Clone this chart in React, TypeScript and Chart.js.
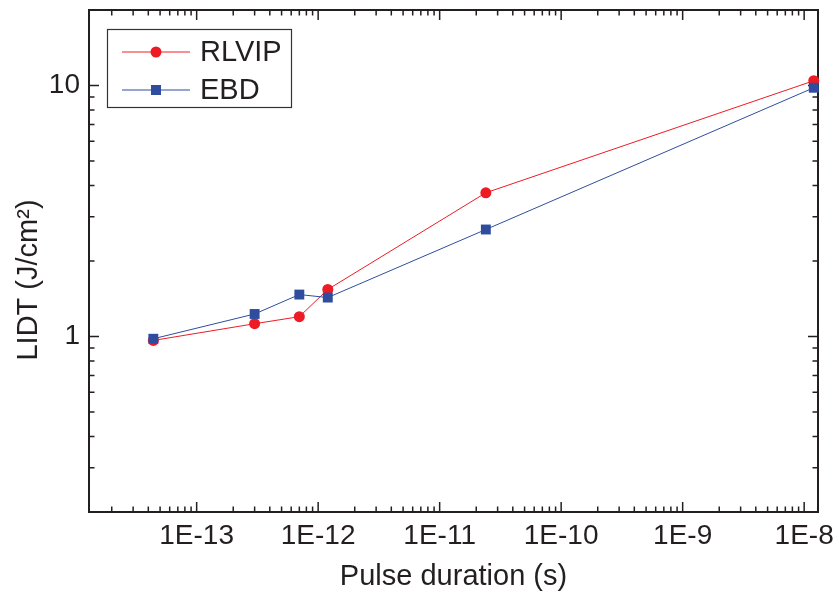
import React, { useEffect, useRef } from "react";
import { Chart, registerables } from "chart.js";

Chart.register(...registerables);

// ---- data ----
const pulseDurations = [4.4e-14, 3e-13, 7e-13, 1.2e-12, 2.4e-11, 1.2e-8];
const rlvipLidt = [0.965, 1.125, 1.2, 1.54, 3.74, 10.45];
const ebdLidt = [0.98, 1.23, 1.47, 1.43, 2.67, 9.8];
const seriesNames = ["RLVIP", "EBD"];
const xTickValues = [1e-13, 1e-12, 1e-11, 1e-10, 1e-9, 1e-8];
const yTickValues = [1, 10];
const xRange = [1.3e-14, 1.3e-8];
const yRange = [0.2, 20];
const xTitle = "Pulse duration (s)";
const yTitle = "LIDT (J/cm²)";

const INK = "#231F20";
const RED = "#ED1C24";
const BLUE = "#2E4D9F";
const FONT = "'Liberation Sans', Arial, sans-serif";

function logTickList(min: number, max: number) {
  const out: { v: number; major: boolean }[] = [];
  const d0 = Math.floor(Math.log10(min));
  const d1 = Math.ceil(Math.log10(max));
  for (let d = d0; d <= d1; d++) {
    for (let m = 1; m <= 9; m++) {
      const v = m * Math.pow(10, d);
      if (v >= min * (1 - 1e-9) && v <= max * (1 + 1e-9)) out.push({ v, major: m === 1 });
    }
  }
  return out;
}

const frameTicksPlugin = {
  id: "frameTicks",
  beforeDatasetsDraw(chart: any) {
    const { ctx, chartArea, scales } = chart;
    const { left, right, top, bottom } = chartArea;
    const xs = scales.x;
    const ys = scales.y;
    ctx.save();
    ctx.strokeStyle = INK;
    ctx.lineWidth = 1.5;
    ctx.beginPath();
    for (const t of logTickList(xs.min, xs.max)) {
      const px = xs.getPixelForValue(t.v);
      const len = t.major ? 10 : 5.5;
      ctx.moveTo(px, bottom);
      ctx.lineTo(px, bottom - len);
      ctx.moveTo(px, top);
      ctx.lineTo(px, top + len);
    }
    for (const t of logTickList(ys.min, ys.max)) {
      const py = ys.getPixelForValue(t.v);
      const len = t.major ? 10 : 5.5;
      ctx.moveTo(left, py);
      ctx.lineTo(left + len, py);
      ctx.moveTo(right, py);
      ctx.lineTo(right - len, py);
    }
    ctx.stroke();
    ctx.lineWidth = 2;
    ctx.strokeRect(left, top, right - left, bottom - top);
    ctx.restore();
  },
  afterDraw(chart: any) {
    const { ctx } = chart;
    ctx.save();
    // y axis title
    ctx.fillStyle = INK;
    ctx.font = `29px ${FONT}`;
    ctx.textAlign = "center";
    ctx.textBaseline = "middle";
    ctx.translate(29, 280);
    ctx.rotate(-Math.PI / 2);
    ctx.fillText(yTitle, 0, 0);
    ctx.restore();

    // legend
    ctx.save();
    const bx = 107.5, by = 29.5, bw = 184, bh = 78;
    ctx.strokeStyle = "#333333";
    ctx.lineWidth = 1.2;
    ctx.strokeRect(bx, by, bw, bh);
    const rows = [52, 90];
    chart.data.datasets.forEach((ds: any, i: number) => {
      const yy = rows[i];
      ctx.strokeStyle = ds.borderColor;
      ctx.lineWidth = 1;
      ctx.beginPath();
      ctx.moveTo(122, yy);
      ctx.lineTo(190, yy);
      ctx.stroke();
      ctx.fillStyle = ds.backgroundColor;
      if (ds.pointStyle === "rect") {
        ctx.fillRect(156 - 5, yy - 5, 10, 10);
      } else {
        ctx.beginPath();
        ctx.arc(156, yy, 5.5, 0, Math.PI * 2);
        ctx.fill();
      }
      ctx.fillStyle = INK;
      ctx.font = `29px ${FONT}`;
      ctx.textAlign = "left";
      ctx.textBaseline = "middle";
      ctx.fillText(ds.label, 200, yy + 1);
    });
    ctx.restore();
  },
};

export default function App() {
  const canvasRef = useRef<HTMLCanvasElement | null>(null);

  useEffect(() => {
    if (!canvasRef.current) return;
    const chart = new Chart(canvasRef.current, {
      type: "line",
      data: {
        datasets: [
          {
            label: seriesNames[0],
            data: pulseDurations.map((x, i) => ({ x, y: rlvipLidt[i] })),
            borderColor: RED,
            backgroundColor: RED,
            borderWidth: 1,
            pointStyle: "circle",
            pointRadius: 5.5,
            pointBorderWidth: 0,
            pointHoverRadius: 5.5,
            tension: 0,
            clip: false,
            order: 1,
          } as any,
          {
            label: seriesNames[1],
            data: pulseDurations.map((x, i) => ({ x, y: ebdLidt[i] })),
            borderColor: BLUE,
            backgroundColor: BLUE,
            borderWidth: 1,
            pointStyle: "rect",
            pointRadius: 7,
            pointBorderWidth: 0,
            pointHoverRadius: 7,
            tension: 0,
            clip: false,
            order: 0,
          } as any,
        ],
      },
      options: {
        animation: false,
        responsive: true,
        maintainAspectRatio: false,
        layout: { padding: { left: 0, top: 10, right: 21, bottom: 0 } },
        plugins: {
          legend: { display: false },
          tooltip: { enabled: false },
        },
        scales: {
          x: {
            type: "logarithmic",
            position: "bottom",
            min: xRange[0],
            max: xRange[1],
            grid: { display: false, drawTicks: false },
            border: { display: false },
            afterBuildTicks: (scale: any) => {
              scale.ticks = xTickValues.map((value) => ({ value }));
            },
            afterFit: (scale: any) => {
              scale.height = 83;
              scale.paddingLeft = 0;
              scale.paddingRight = 0;
            },
            ticks: {
              autoSkip: false,
              maxRotation: 0,
              minRotation: 0,
              padding: 7,
              color: INK,
              font: { family: FONT, size: 28 },
              callback: (v: any) => `1E${Math.round(Math.log10(Number(v)))}`,
            },
            title: {
              display: true,
              text: xTitle,
              color: INK,
              font: { family: FONT, size: 29 },
              padding: { top: 0, bottom: 1 },
            },
          } as any,
          y: {
            type: "logarithmic",
            position: "left",
            min: yRange[0],
            max: yRange[1],
            grid: { display: false, drawTicks: false },
            border: { display: false },
            afterBuildTicks: (scale: any) => {
              scale.ticks = yTickValues.map((value) => ({ value }));
            },
            afterFit: (scale: any) => {
              scale.width = 89;
              scale.paddingTop = 0;
              scale.paddingBottom = 0;
            },
            ticks: {
              autoSkip: false,
              padding: 9,
              color: INK,
              font: { family: FONT, size: 28 },
              callback: (v: any) => String(Number(v)),
            },
          } as any,
        },
      },
      plugins: [frameTicksPlugin],
    });
    return () => chart.destroy();
  }, []);

  return (
    <div style={{ position: "fixed", left: 0, top: 0, width: 839, height: 595, background: "#ffffff" }}>
      <canvas ref={canvasRef} />
    </div>
  );
}
